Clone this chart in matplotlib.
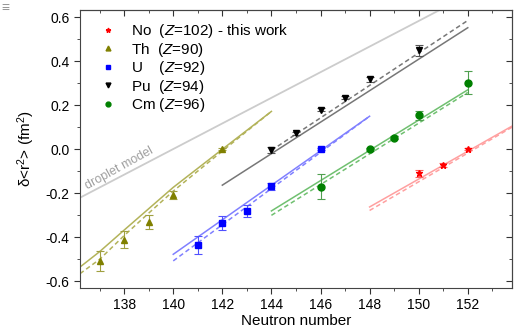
import numpy as np
import matplotlib
matplotlib.use("Agg")
import matplotlib.pyplot as plt
from matplotlib.ticker import MultipleLocator

plt.rcParams['font.family'] = ['Liberation Sans', 'DejaVu Sans']
plt.rcParams['mathtext.fontset'] = 'custom'
plt.rcParams['mathtext.rm'] = 'Liberation Sans'
plt.rcParams['mathtext.it'] = 'Liberation Sans:italic'

# data points (N, delta <r^2>, error)
th_n = [137, 138, 139, 140, 142]
th_y = [-0.507, -0.41, -0.33, -0.208, 0.0]
th_e = [0.045, 0.038, 0.03, 0.02, 0.004]

u_n = [141, 142, 143, 144, 146]
u_y = [-0.434, -0.335, -0.28, -0.168, 0.0]
u_e = [0.04, 0.03, 0.026, 0.015, 0.004]

pu_n = [144, 145, 146, 147, 148, 150]
pu_y = [-0.003, 0.072, 0.18, 0.235, 0.317, 0.45]
pu_e = [0.015, 0.008, 0.008, 0.008, 0.01, 0.025]

cm_n = [146, 148, 149, 150, 152]
cm_y = [-0.17, 0.0, 0.053, 0.155, 0.303]
cm_e = [0.056, 0.008, 0.008, 0.02, 0.053]

no_n = [150, 151, 152]
no_y = [-0.11, -0.072, 0.0]
no_e = [0.015, 0.01, 0.005]

# model curves (solid / dashed)
th_ln = [136.2, 137, 138, 139, 140, 142, 144]
th_solid = [-0.535, -0.465, -0.367, -0.27, -0.173, 0.0, 0.172]
th_dash = [-0.565, -0.50, -0.392, -0.29, -0.19, -0.008, 0.172]

u_ln = [140, 148]
u_solid = [-0.477, 0.15]
u_dash = [-0.507, 0.15]

pu_ln = [142, 152]
pu_solid = [-0.163, 0.552]
pu_dn = [144, 152]
pu_dash = [-0.005, 0.585]

cm_ln = [144, 152]
cm_solid = [-0.28, 0.27]
cm_dash = [-0.30, 0.258]

no_ln = [148, 153.8]
no_solid = [-0.262, 0.105]
no_dash = [-0.278, 0.10]

drop_n = [136.2, 151.5]
drop_y = [-0.22, 0.67]

fig = plt.figure(figsize=(5.14, 3.36), dpi=100)
ax = fig.add_axes([0.1556, 0.1429, 0.8404, 0.827])

ax.plot(drop_n, drop_y, color='#cccccc', lw=1.3, zorder=1)
ax.text(137.8, -0.085, 'droplet model', color='#a0a0a0', fontsize=9,
        rotation=29, ha='center', va='center')

ax.plot(th_ln, th_solid, color='#b3b35a', lw=1.1)
ax.plot(th_ln, th_dash, color='#b3b35a', lw=1.1, ls=(0, (3, 2)))
ax.plot(u_ln, u_solid, color='#8080ff', lw=1.1)
ax.plot(u_ln, u_dash, color='#8080ff', lw=1.1, ls=(0, (3, 2)))
ax.plot(pu_ln, pu_solid, color='#777777', lw=1.1)
ax.plot(pu_dn, pu_dash, color='#777777', lw=1.1, ls=(0, (3, 2)))
ax.plot(cm_ln, cm_solid, color='#70c070', lw=1.1)
ax.plot(cm_ln, cm_dash, color='#70c070', lw=1.1, ls=(0, (3, 2)))
ax.plot(no_ln, no_solid, color='#ffa0a0', lw=1.1)
ax.plot(no_ln, no_dash, color='#ffa0a0', lw=1.1, ls=(0, (3, 2)))

ebkw = dict(ls='none', capsize=2.8, elinewidth=0.8, capthick=0.8, ms=5)
h_no = ax.errorbar(no_n, no_y, yerr=no_e, fmt='*', color='red', ecolor='#ff6060', **ebkw)
h_th = ax.errorbar(th_n, th_y, yerr=th_e, fmt='^', color='#808000', ecolor='#a0a040', **ebkw)
h_u = ax.errorbar(u_n, u_y, yerr=u_e, fmt='s', color='blue', ecolor='#5050ff', **ebkw)
h_pu = ax.errorbar(pu_n, pu_y, yerr=pu_e, fmt='v', color='black', ecolor='#555555', **ebkw)
h_cm = ax.errorbar(cm_n, cm_y, yerr=cm_e, fmt='o', color='green', ecolor='#50a050', **ebkw)

labels = ['No  ($\\mathit{Z}$=102) - this work', 'Th  ($\\mathit{Z}$=90)',
          'U    ($\\mathit{Z}$=92)', 'Pu  ($\\mathit{Z}$=94)', 'Cm ($\\mathit{Z}$=96)']
handles = [ax.plot([], [], m, color=c, ms=3.5, ls='none')[0]
           for m, c in zip(['*', '^', 's', 'v', 'o'], ['red', '#808000', 'blue', 'black', 'green'])]
ax.legend(handles, labels, loc='upper left', bbox_to_anchor=(0.02, 1.0), frameon=False,
          fontsize=11, handlelength=1.0, handletextpad=1.0, labelspacing=0.03, borderpad=0.3)

ax.set_xlim(136.2, 153.8)
ax.set_ylim(-0.63, 0.632)
ax.xaxis.set_major_locator(MultipleLocator(2))
ax.xaxis.set_minor_locator(MultipleLocator(1))
ax.yaxis.set_major_locator(MultipleLocator(0.2))
ax.yaxis.set_minor_locator(MultipleLocator(0.1))
ax.yaxis.set_major_formatter(matplotlib.ticker.FormatStrFormatter('%.1f'))
ax.tick_params(which='both', direction='out', labelsize=10, color='#333333')
ax.tick_params(which='major', length=4)
ax.tick_params(which='minor', length=2.5)

top = ax.secondary_xaxis('top')
top.xaxis.set_major_locator(MultipleLocator(2))
top.xaxis.set_minor_locator(MultipleLocator(1))
top.tick_params(which='both', direction='in', labeltop=False, color='#333333')
top.tick_params(which='major', length=4)
top.tick_params(which='minor', length=2.5)
right = ax.secondary_yaxis('right')
right.yaxis.set_major_locator(MultipleLocator(0.2))
right.yaxis.set_minor_locator(MultipleLocator(0.1))
right.tick_params(which='both', direction='in', labelright=False, color='#333333')
right.tick_params(which='major', length=4)
right.tick_params(which='minor', length=2.5)
for s in list(ax.spines.values()) + [top.spines['top'], right.spines['right']]:
    s.set_color('#444444')

ax.set_xlabel('Neutron number', fontsize=11, labelpad=1)
ax.set_ylabel('δ<r$^2$> (fm$^2$)', fontsize=11, labelpad=6)

fig.text(0.002, 0.975, '≡', color='#999999', fontsize=10, ha='left', va='center')

fig.savefig('out.png', dpi=100)
